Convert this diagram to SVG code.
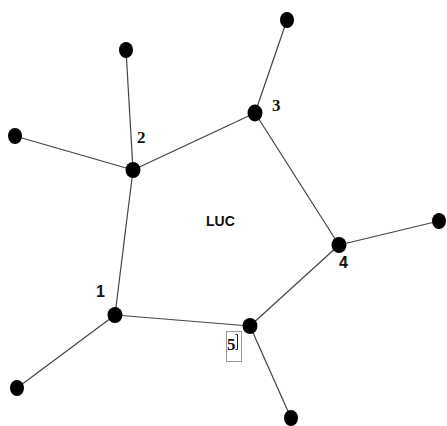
<svg xmlns="http://www.w3.org/2000/svg" width="447" height="426" viewBox="0 0 447 426">
  <style>
    .edge { stroke: #444; stroke-width: 1.2; fill: none; }
    .dot { fill: #000; }
    .lblS { font-family: "Liberation Serif", serif; font-weight: bold; font-size: 17px; fill: #111; }
    .lblN { font-family: "Liberation Sans", sans-serif; font-weight: bold; font-size: 16px; fill: #111; }
    .title { font-family: "Liberation Sans", sans-serif; font-weight: bold; font-size: 14px; fill: #111; }
  </style>
  <rect width="447" height="426" fill="#fff"/>

  <!-- connectors -->
  <g id="connectors">
    <line class="edge" x1="115" y1="315" x2="133" y2="170"/>
    <line class="edge" x1="133" y1="170" x2="255" y2="113"/>
    <line class="edge" x1="255" y1="113" x2="339" y2="245"/>
    <line class="edge" x1="339" y1="245" x2="250" y2="326"/>
    <line class="edge" x1="250" y1="326" x2="115" y2="315"/>
    <line class="edge" x1="133" y1="170" x2="126" y2="50"/>
    <line class="edge" x1="133" y1="170" x2="15" y2="136"/>
    <line class="edge" x1="255" y1="113" x2="287" y2="20"/>
    <line class="edge" x1="339" y1="245" x2="439" y2="221"/>
    <line class="edge" x1="250" y1="326" x2="291" y2="418"/>
    <line class="edge" x1="115" y1="315" x2="17" y2="388"/>
  </g>

  <!-- pentagon nodes -->
  <g id="node1">
    <ellipse class="dot" cx="115" cy="315" rx="7.5" ry="8"/>
    <text class="lblN" x="96" y="297">1</text>
  </g>
  <g id="node2">
    <ellipse class="dot" cx="133" cy="170" rx="7.5" ry="8"/>
    <text class="lblS" x="137" y="143">2</text>
  </g>
  <g id="node3">
    <ellipse class="dot" cx="255" cy="113" rx="7.5" ry="8.5"/>
    <text class="lblS" x="272" y="111">3</text>
  </g>
  <g id="node4">
    <ellipse class="dot" cx="339" cy="245" rx="7.5" ry="8"/>
    <text class="lblN" x="339" y="268">4</text>
  </g>
  <g id="node5">
    <ellipse class="dot" cx="250" cy="326" rx="7.5" ry="8"/>
    <rect x="226.5" y="331.5" width="15" height="30" fill="#fff" stroke="#999" stroke-width="1"/>
    <text class="lblS" x="227" y="350">5</text>
    <path d="M235.5 334.5 H237.5 V349.5 H235.5" stroke="#222" stroke-width="1" fill="none"/>
  </g>

  <!-- outer leaf nodes -->
  <g id="leaf2a"><ellipse class="dot" cx="126" cy="50" rx="7" ry="8"/></g>
  <g id="leaf2b"><ellipse class="dot" cx="15" cy="136" rx="7" ry="8"/></g>
  <g id="leaf3"><ellipse class="dot" cx="287" cy="20" rx="7" ry="8"/></g>
  <g id="leaf4"><ellipse class="dot" cx="439" cy="221" rx="7" ry="8"/></g>
  <g id="leaf5"><ellipse class="dot" cx="291" cy="418" rx="7" ry="8"/></g>
  <g id="leaf1"><ellipse class="dot" cx="17" cy="388" rx="7" ry="8"/></g>

  <g id="center-label">
    <text class="title" x="206" y="226">LUC</text>
  </g>
</svg>
